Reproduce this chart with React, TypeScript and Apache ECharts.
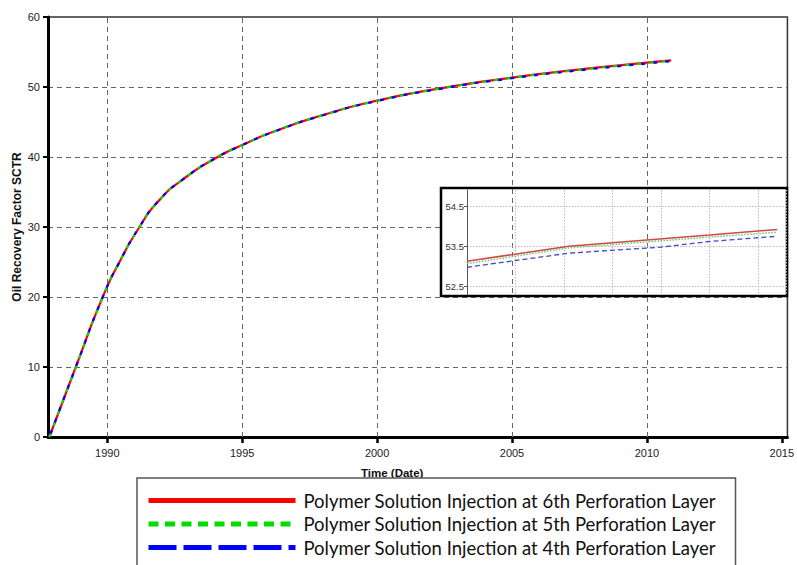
import React, { useEffect, useRef } from "react";
import * as echarts from "echarts";

// Main recovery curves (decimal year, recovery factor %)
const years = [1987.85, 1988.85, 1989.85, 1990.45, 1991.19, 1991.87, 1992.8, 1994.04, 1995.0, 1996.15, 1998.0, 2000.0, 2002.34, 2005.0, 2007.3, 2010.0, 2010.9];
const layer6 = [0, 10.2, 20.2, 25.0, 30.0, 33.6, 36.8, 39.9, 41.7, 43.6, 46.0, 48.05, 49.8, 51.33, 52.4, 53.47, 53.8];
const layer5 = [0, 10.2, 20.2, 25.0, 30.0, 33.6, 36.8, 39.9, 41.7, 43.6, 46.0, 48.03, 49.78, 51.3, 52.36, 53.43, 53.76];
const layer4 = [0, 10.2, 20.2, 25.0, 30.0, 33.6, 36.8, 39.9, 41.7, 43.58, 45.97, 48.0, 49.74, 51.25, 52.3, 53.36, 53.7];

// Zoomed view of the late-time values
const insetX6 = [0, 2.1, 5.0, 6.4];
const insetY6 = [53.13, 53.5, 53.78, 53.92];
const insetX5 = [0, 2.1, 5.0, 6.4];
const insetY5 = [53.07, 53.46, 53.73, 53.85];
const insetX4 = [0, 2.1, 4.0, 5.0, 6.4];
const insetY4 = [52.98, 53.33, 53.48, 53.62, 53.75];

const xTickYears = [1990, 1995, 2000, 2005, 2010, 2015];
const xGridYears = [1990, 1995, 2000, 2005, 2010];
const insetTicks = [52.5, 53.5, 54.5];

const names = [
  "Polymer Solution Injection at 6th Perforation Layer",
  "Polymer Solution Injection at 5th Perforation Layer",
  "Polymer Solution Injection at 4th Perforation Layer",
];

const zip = (xs: number[], ys: number[]) => xs.map((x, i) => [x, ys[i]]);

const FONT = "'Liberation Sans', Arial, sans-serif";
const hiddenSymbol = { color: "transparent", borderWidth: 0, opacity: 0 };

export default function App() {
  const ref = useRef<HTMLDivElement>(null);

  useEffect(() => {
    if (!ref.current) return;
    const chart = echarts.init(ref.current, undefined, { renderer: "svg" });

    const option: any = {
      animation: false,
      backgroundColor: "#ffffff",
      grid: [
        {
          left: 48,
          top: 17,
          width: 740,
          height: 420,
          show: true,
          borderColor: "#333",
          borderWidth: 1.5,
          backgroundColor: "transparent",
        },
        { left: 467, top: 190, width: 319, height: 105, show: false },
      ],
      xAxis: [
        {
          type: "value",
          gridIndex: 0,
          min: 1987.8,
          max: 2015.21,
          axisLine: { show: true, onZero: false, lineStyle: { color: "#000", width: 3 } },
          axisTick: {
            show: true,
            length: 6,
            customValues: xTickYears,
            lineStyle: { color: "#000", width: 2.5 },
          },
          axisLabel: {
            customValues: xTickYears,
            margin: 10,
            fontFamily: FONT,
            fontSize: 11,
            color: "#222",
            formatter: (v: number) => String(v),
          },
          splitLine: { show: false },
        },
        {
          type: "value",
          gridIndex: 1,
          min: 0,
          max: 6.58,
          interval: 1,
          z: 6,
          axisLine: { show: false },
          axisTick: { show: false },
          axisLabel: { show: false },
          splitLine: { show: true, lineStyle: { color: "#bbb", type: [1.5, 1.5], width: 1 } },
        },
      ],
      yAxis: [
        {
          type: "value",
          gridIndex: 0,
          min: 0,
          max: 60,
          interval: 10,
          name: "Oil Recovery Factor SCTR",
          nameLocation: "middle",
          nameGap: 25,
          nameMoveOverlap: false,
          nameTextStyle: { fontFamily: FONT, fontSize: 12, fontWeight: "bold", color: "#111" },
          axisLine: { show: true, lineStyle: { color: "#000", width: 3 } },
          axisTick: { show: true, length: 5, lineStyle: { color: "#000", width: 2 } },
          axisLabel: { margin: 8, fontFamily: FONT, fontSize: 11, color: "#222" },
          splitLine: { show: true, lineStyle: { color: "#666", type: [5, 4], width: 1 } },
        },
        {
          type: "value",
          gridIndex: 1,
          min: 52.29,
          max: 54.9,
          z: 6,
          axisLine: { show: true, lineStyle: { color: "#555", width: 1 } },
          axisTick: {
            show: true,
            length: 3,
            customValues: insetTicks,
            lineStyle: { color: "#555", width: 1 },
          },
          axisLabel: {
            customValues: insetTicks,
            margin: 3,
            fontFamily: FONT,
            fontSize: 9.5,
            color: "#333",
            formatter: (v: number) => v.toFixed(1),
          },
          splitLine: { show: true, lineStyle: { color: "#bbb", type: [1.5, 1.5], width: 1 } },
        },
      ],
      legend: {
        orient: "vertical",
        left: 137,
        top: 478,
        height: 120,
        padding: [13, 0, 30, 9],
        itemWidth: 147,
        itemHeight: 10,
        itemGap: 4.5,
        borderColor: "#555",
        borderWidth: 1.5,
        backgroundColor: "#fff",
        selectedMode: false,
        z: 8,
        textStyle: {
          fontFamily: "Lato, 'Open Sans', sans-serif",
          fontSize: 18.5,
          color: "#111",
          lineHeight: 19,
          width: 432,
          padding: [0, 0, 0, 3],
        },
        data: [
          { name: names[0], itemStyle: hiddenSymbol, lineStyle: { width: 5, type: "solid", dashOffset: 0 } },
          { name: names[1], itemStyle: hiddenSymbol, lineStyle: { width: 5, type: [10, 6.5], dashOffset: 0 } },
          { name: names[2], itemStyle: hiddenSymbol, lineStyle: { width: 5, type: [28, 7], dashOffset: 0 } },
        ],
      },
      graphic: [
        {
          type: "text",
          left: 361,
          top: 467,
          z: 1,
          style: { text: "Time (Date)", font: `bold 11.5px ${FONT}`, fill: "#111" },
        },
        {
          type: "rect",
          z: 5,
          shape: { x: 441, y: 188, width: 346, height: 108 },
          style: { fill: "#fff", stroke: "#000", lineWidth: 2.5 },
        },
      ],
      series: [
        {
          // vertical grid lines of the main plot
          type: "line",
          xAxisIndex: 0,
          yAxisIndex: 0,
          data: [],
          z: 1,
          silent: true,
          markLine: {
            silent: true,
            symbol: "none",
            label: { show: false },
            lineStyle: { color: "#666", type: [5, 4], width: 1 },
            data: xGridYears.map((v) => ({ xAxis: v })),
          },
        },
        {
          name: names[0],
          type: "line",
          xAxisIndex: 0,
          yAxisIndex: 0,
          data: zip(years, layer6),
          smooth: 0.6,
          symbol: "none",
          z: 2,
          lineStyle: { color: "#ff0000", width: 2.2 },
          itemStyle: { color: "#ff0000" },
        },
        {
          name: names[1],
          type: "line",
          xAxisIndex: 0,
          yAxisIndex: 0,
          data: zip(years, layer5),
          smooth: 0.6,
          symbol: "none",
          z: 3,
          lineStyle: { color: "#00dd00", width: 2.2, type: [4, 8] },
          itemStyle: { color: "#00dd00" },
        },
        {
          name: names[2],
          type: "line",
          xAxisIndex: 0,
          yAxisIndex: 0,
          data: zip(years, layer4),
          smooth: 0.6,
          symbol: "none",
          z: 4,
          lineStyle: { color: "#0000ff", width: 2.2, type: [4, 8], dashOffset: 8 },
          itemStyle: { color: "#0000ff" },
        },
        {
          type: "line",
          xAxisIndex: 1,
          yAxisIndex: 1,
          data: zip(insetX6, insetY6),
          symbol: "none",
          z: 7,
          lineStyle: { color: "#d04848", width: 1.6 },
        },
        {
          type: "line",
          xAxisIndex: 1,
          yAxisIndex: 1,
          data: zip(insetX5, insetY5),
          symbol: "none",
          z: 7,
          lineStyle: { color: "#6cc86c", width: 1.5, type: [1.5, 1.5] },
        },
        {
          type: "line",
          xAxisIndex: 1,
          yAxisIndex: 1,
          data: zip(insetX4, insetY4),
          symbol: "none",
          z: 7,
          lineStyle: { color: "#4444c8", width: 1.3, type: [5, 3] },
        },
      ],
    };

    chart.setOption(option);
    return () => chart.dispose();
  }, []);

  return (
    <div
      ref={ref}
      style={{ position: "fixed", left: 0, top: 0, width: 797, height: 565 }}
    />
  );
}
